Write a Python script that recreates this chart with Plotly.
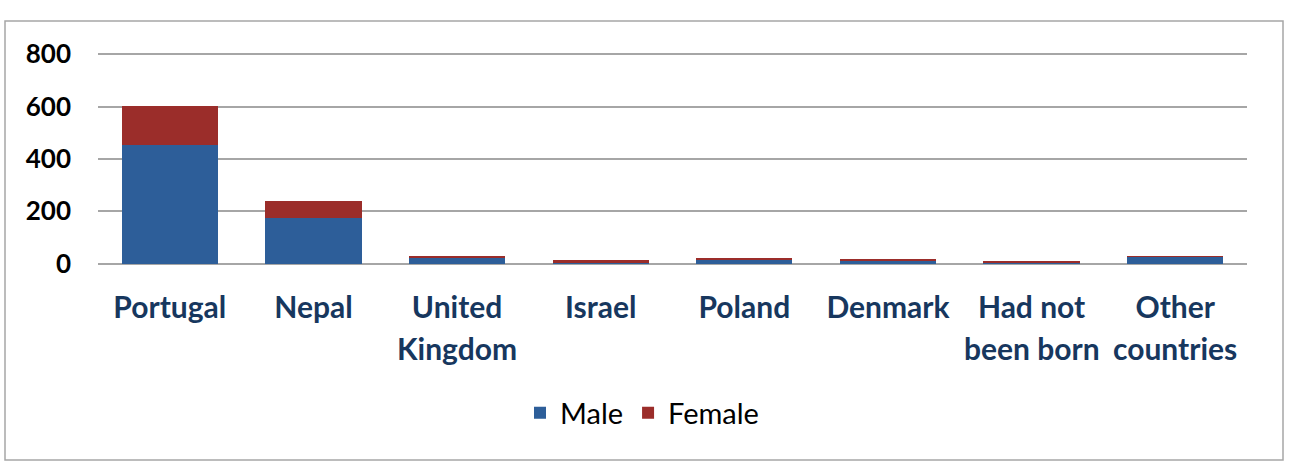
import plotly.graph_objects as go

line1 = ["Portugal", "Nepal", "United", "Israel", "Poland", "Denmark", "Had not", "Other"]
line2 = ["", "", "Kingdom", "", "", "", "been born", "countries"]
categories = ["Portugal", "Nepal", "United Kingdom", "Israel", "Poland", "Denmark",
              "Had not been born", "Other countries"]
male = [453, 175, 24, 2, 16, 14, 3, 26]
female = [150, 65, 3, 14, 5, 4, 7, 3]
y_ticks = [0, 200, 400, 600, 800]

BLUE = "#2D5E99"
RED = "#9B2D2A"
LABEL = "#17375E"
FONT = "Lato"

fig = go.Figure()
fig.add_trace(go.Bar(x=categories, y=male, name="Male", marker_color=BLUE,
                     marker_line_width=0))
fig.add_trace(go.Bar(x=categories, y=female, name="Female", marker_color=RED,
                     marker_line_width=0))

W, H = 1293, 467
L, R, T, B = 98, 46, 53, 202
pw, ph = W - L - R, H - T - B

def px(x):
    return (x - L) / pw

def py(y):
    return (H - B - y) / ph

fig.update_layout(
    width=W, height=H, barmode="stack", bargap=0.33,
    margin=dict(l=L, r=R, t=T, b=B),
    paper_bgcolor="white", plot_bgcolor="white",
    font=dict(family=FONT, size=20, color="black"),
    showlegend=True,
    legend=dict(orientation="h", x=px(642), y=py(413), xanchor="center", yanchor="middle",
                font=dict(family=FONT, size=29, color="black"), traceorder="normal",
                itemwidth=30),
    xaxis=dict(tickmode="array", tickvals=categories, ticktext=line1,
               tickfont=dict(family=FONT, size=30, color=LABEL, weight="bold"),
               ticklabelstandoff=22,
               showgrid=False, showline=False, zeroline=False, ticks=""),
    yaxis=dict(range=[-5, 805], tickvals=y_ticks, showgrid=True, gridcolor="#A6A6A6",
               gridwidth=1.5, zeroline=False, showline=False, ticks="",
               ticklabelstandoff=26,
               tickfont=dict(family=FONT, size=26, color="black", weight="bold")),
    shapes=[dict(type="rect", xref="paper", yref="paper",
                 x0=px(5), x1=px(1283), y0=py(460), y1=py(21),
                 line=dict(color="#A6A6A6", width=1.5), fillcolor="rgba(0,0,0,0)",
                 layer="below")],
)

annotations = []
for c, t in zip(categories, line2):
    if t:
        annotations.append(dict(x=c, xref="x", y=py(348), yref="paper", text=t,
                                showarrow=False, xanchor="center", yanchor="middle",
                                font=dict(family=FONT, size=30, color=LABEL, weight="bold")))
fig.update_layout(annotations=annotations)

fig.write_html("out.html")
